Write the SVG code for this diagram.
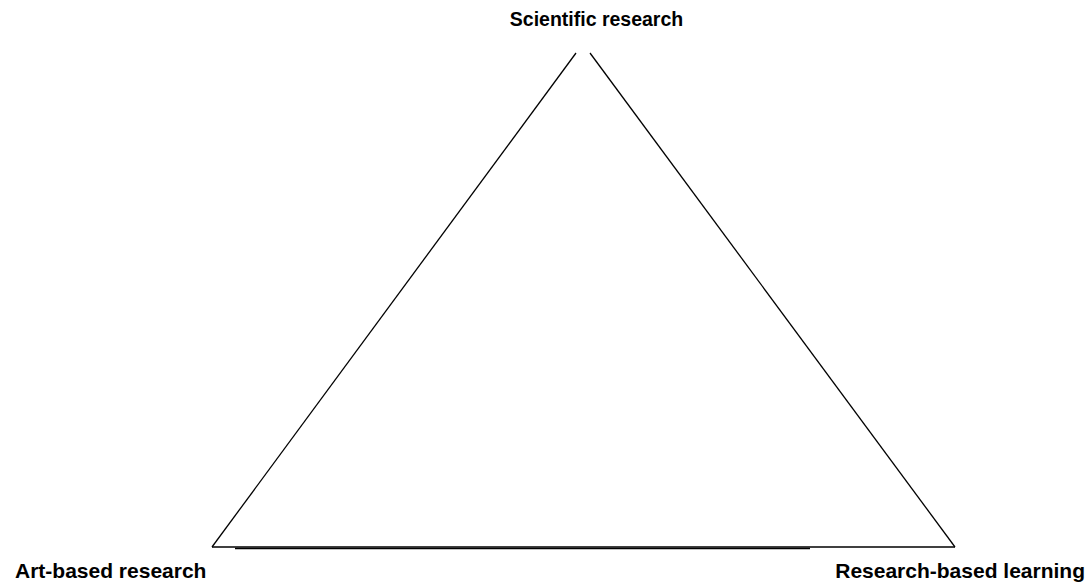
<svg xmlns="http://www.w3.org/2000/svg" width="1088" height="583" viewBox="0 0 1088 583">
<style>
.lbl{font-family:"Liberation Sans",Arial,sans-serif;font-weight:bold;font-size:21px;fill:#000}
.ln{stroke:#000;stroke-width:1.3;fill:none}
</style>
<rect width="1088" height="583" fill="#fff"/>
<g id="connectors">
<line class="ln" x1="212" y1="547" x2="576" y2="53"/>
<line class="ln" x1="590" y1="53" x2="955" y2="547"/>
<line class="ln" x1="212" y1="547" x2="955" y2="547"/>
<line class="ln" x1="235" y1="548.5" x2="810" y2="548.5"/>
</g>
<g id="node-scientific"><text class="lbl" x="596.5" y="26" text-anchor="middle" style="font-size:19.5px">Scientific research</text></g>
<g id="node-art"><text class="lbl" x="15" y="578">Art-based research</text></g>
<g id="node-learning"><text class="lbl" x="1085" y="578" text-anchor="end">Research-based learning</text></g>
</svg>
